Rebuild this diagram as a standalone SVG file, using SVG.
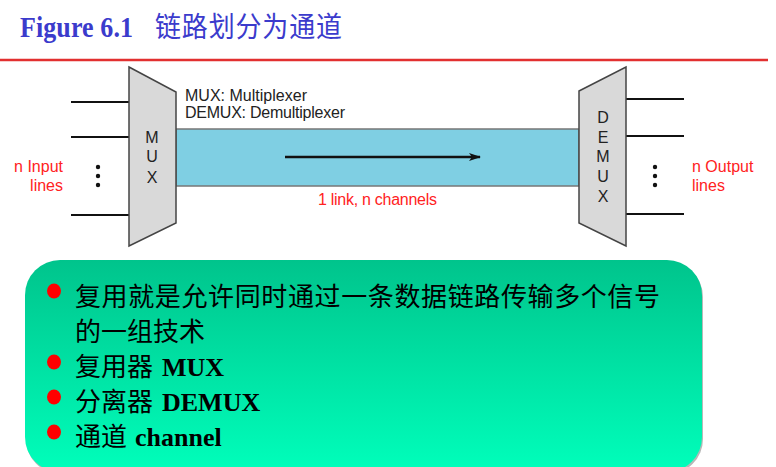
<svg xmlns="http://www.w3.org/2000/svg" width="776" height="467" viewBox="0 0 776 467">
<style>
.lbl{font-family:"Liberation Sans","Open Sans",sans-serif;font-size:16px;fill:#222}
.red{font-family:"Liberation Sans","Open Sans",sans-serif;font-size:16px;fill:#ff2222}
.line{stroke:#111;stroke-width:2}
.box{fill:#d9d9d9;stroke:#444;stroke-width:1.5}
.cjk{font-family:"Noto Sans CJK SC",sans-serif;font-size:26px;fill:#000}
.lat{font-family:"Liberation Serif",serif;font-weight:bold;font-size:26px;fill:#000}
.bul{fill:#ff0000}
</style>
<defs>
<linearGradient id="g" x1="0" y1="0" x2="0" y2="1">
<stop offset="0" stop-color="#00c48c"/>
<stop offset="1" stop-color="#00ffbb"/>
</linearGradient>
<marker id="ah" markerWidth="12" markerHeight="8" refX="11" refY="4" orient="auto" markerUnits="userSpaceOnUse">
<path d="M0,0 L12,4 L0,8 L3,4 Z" fill="#111"/>
</marker>
</defs>
<rect width="776" height="467" fill="#fff"/>
<g id="title">
<text transform="translate(20,37) scale(1,1.12)" font-family="Liberation Serif,serif" font-weight="bold" font-size="26" fill="#3b3bcc" textLength="113">Figure 6.1</text>
<text transform="translate(155,37) scale(1,1.08)" font-family="Noto Sans CJK SC,sans-serif" font-size="26" fill="#3b3bcc" textLength="187">链路划分为通道</text>
<line x1="0" y1="60" x2="768" y2="60" stroke="#e23030" stroke-width="2.5"/>
</g>
<g id="connectors">
<line class="line" x1="71" y1="102" x2="129" y2="102"/>
<line class="line" x1="71" y1="137" x2="129" y2="137"/>
<line class="line" x1="71" y1="215" x2="129" y2="215"/>
<line class="line" x1="626" y1="99" x2="684" y2="99"/>
<line class="line" x1="626" y1="136" x2="684" y2="136"/>
<line class="line" x1="626" y1="214" x2="684" y2="214"/>
<circle cx="98" cy="167" r="2.2" fill="#111"/>
<circle cx="98" cy="176" r="2.2" fill="#111"/>
<circle cx="98" cy="185" r="2.2" fill="#111"/>
<circle cx="655" cy="167" r="2.2" fill="#111"/>
<circle cx="655" cy="176" r="2.2" fill="#111"/>
<circle cx="655" cy="185" r="2.2" fill="#111"/>
</g>
<g id="link">
<rect x="176" y="129" width="403" height="57" fill="#7fcfe3" stroke="#777" stroke-width="1.5"/>
<line x1="285" y1="157" x2="480" y2="157" stroke="#111" stroke-width="2.5" marker-end="url(#ah)"/>
<text class="red" x="318" y="205" textLength="119">1 link, n channels</text>
</g>
<g id="mux">
<polygon class="box" points="129,67 176,92 176,223 129,246"/>
<text class="lbl" x="152" y="143" text-anchor="middle">M</text>
<text class="lbl" x="152" y="162" text-anchor="middle">U</text>
<text class="lbl" x="152" y="183" text-anchor="middle">X</text>
</g>
<g id="demux">
<polygon class="box" points="579,91 626,67 626,246 579,223"/>
<text class="lbl" x="603" y="123" text-anchor="middle">D</text>
<text class="lbl" x="603" y="143" text-anchor="middle">E</text>
<text class="lbl" x="603" y="162" text-anchor="middle">M</text>
<text class="lbl" x="603" y="182" text-anchor="middle">U</text>
<text class="lbl" x="603" y="202" text-anchor="middle">X</text>
</g>
<g id="legend">
<text class="lbl" x="185" y="101" textLength="122">MUX: Multiplexer</text>
<text class="lbl" x="185" y="118" textLength="160">DEMUX: Demultiplexer</text>
</g>
<g id="inputs">
<text class="red" x="63" y="172" text-anchor="end">n Input</text>
<text class="red" x="63" y="191" text-anchor="end">lines</text>
</g>
<g id="outputs">
<text class="red" x="692" y="172">n Output</text>
<text class="red" x="692" y="191">lines</text>
</g>
<g id="notes">
<rect x="26" y="262" width="677" height="212" rx="35" fill="#b8b8b8"/>
<rect x="25" y="260" width="677" height="212" rx="35" fill="url(#g)"/>
<ellipse class="bul" cx="54" cy="291" rx="7" ry="7.5"/>
<ellipse class="bul" cx="54" cy="362" rx="7" ry="7.5"/>
<ellipse class="bul" cx="54" cy="397" rx="7" ry="7.5"/>
<ellipse class="bul" cx="54" cy="432" rx="7" ry="7.5"/>
<text class="cjk" x="75" y="306" textLength="585">复用就是允许同时通过一条数据链路传输多个信号</text>
<text class="cjk" x="75" y="341">的一组技术</text>
<text x="75" y="376"><tspan class="cjk">复用器</tspan><tspan class="lat" x="162">MUX</tspan></text>
<text x="75" y="411"><tspan class="cjk">分离器</tspan><tspan class="lat" x="162">DEMUX</tspan></text>
<text x="75" y="446"><tspan class="cjk">通道</tspan><tspan class="lat" x="135">channel</tspan></text>
</g>
</svg>
